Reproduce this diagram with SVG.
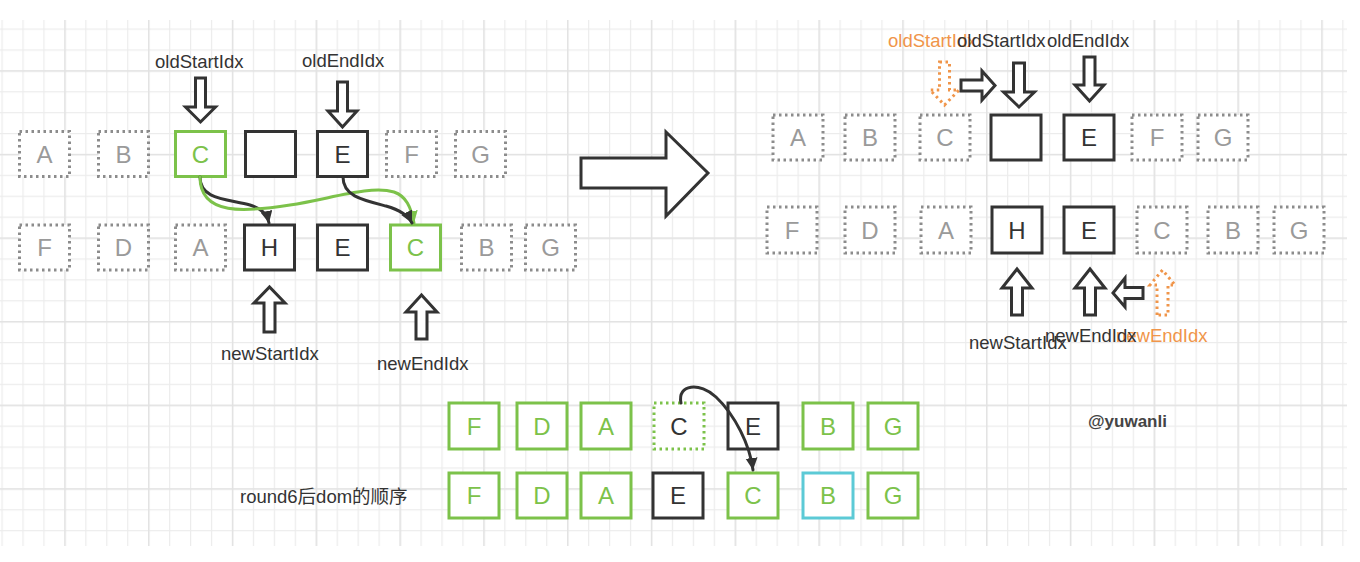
<svg xmlns="http://www.w3.org/2000/svg" width="1360" height="562" viewBox="0 0 1360 562">
  <style>
    .box { fill: #ffffff; stroke-width: 3; }
    .dot { stroke: #8c8c8c; stroke-dasharray: 2.5 3.5; }
    .grn { stroke: #7cc24a; }
    .gdot { stroke: #7cc24a; stroke-dasharray: 2.5 3.5; }
    .drk { stroke: #333333; }
    .cyn { stroke: #5ccad6; }
    .lt { font-family: "Liberation Sans", Arial, Helvetica, sans-serif; font-size: 24px; text-anchor: middle; }
    .tg { fill: #9a9a9a; }
    .tgn { fill: #7cc24a; }
    .td { fill: #333333; }
    .lbl { font-family: "Liberation Sans", Arial, Helvetica, sans-serif; font-size: 18.5px; fill: #333333; }
    .org { fill: #f0954a; }
    .arw { fill: #ffffff; stroke: #333333; stroke-width: 3; stroke-linejoin: miter; }
    .arwo { fill: #ffffff; stroke: #f0954a; stroke-width: 3; stroke-dasharray: 2.5 3.5; }
    .con { fill: none; stroke-width: 3; stroke-linecap: round; }
  </style>
  <defs>
    <pattern id="gridMinor" patternUnits="userSpaceOnUse" x="22.4" y="49.4" width="20.95" height="20.9">
      <rect width="1.2" height="20.9" fill="#ececec"/>
      <rect width="20.95" height="1.2" fill="#ececec"/>
    </pattern>
    <pattern id="gridMajor" patternUnits="userSpaceOnUse" x="64.3" y="70.3" width="83.8" height="83.6">
      <rect width="1.4" height="83.6" fill="#e2e2e2"/>
      <rect width="83.8" height="1.4" fill="#e2e2e2"/>
    </pattern>
    <marker id="headDark" markerUnits="userSpaceOnUse" markerWidth="14" markerHeight="14" refX="12" refY="6" orient="auto">
      <path d="M0 0 L12 6 L0 12 Z" fill="#333333"/>
    </marker>
    <marker id="headGreen" markerUnits="userSpaceOnUse" markerWidth="14" markerHeight="14" refX="12" refY="6" orient="auto">
      <path d="M0 0 L12 6 L0 12 Z" fill="#7cc24a"/>
    </marker>
  </defs>

  <!-- background grid -->
  <rect width="1360" height="562" fill="#ffffff"/>
  <rect x="0" y="20" width="1347" height="526" fill="url(#gridMinor)"/>
  <rect x="0" y="20" width="1347" height="526" fill="url(#gridMajor)"/>

  <!-- left: old children -->
  <g id="old-A"><rect class="box dot" x="19.5" y="131.5" width="50" height="45"/><text class="lt tg" x="44.5" y="162.5">A</text></g>
  <g id="old-B"><rect class="box dot" x="98.5" y="131.5" width="50" height="45"/><text class="lt tg" x="123.5" y="162.5">B</text></g>
  <g id="old-C"><rect class="box grn" x="175.5" y="131.5" width="50" height="45"/><text class="lt tgn" x="200.5" y="162.5">C</text></g>
  <g id="old-empty"><rect class="box drk" x="245.5" y="131.5" width="50" height="45"/></g>
  <g id="old-E"><rect class="box drk" x="317.5" y="131.5" width="50" height="45"/><text class="lt td" x="342.5" y="162.5">E</text></g>
  <g id="old-F"><rect class="box dot" x="386.5" y="131.5" width="50" height="45"/><text class="lt tg" x="411.5" y="162.5">F</text></g>
  <g id="old-G"><rect class="box dot" x="455.5" y="131.5" width="50" height="45"/><text class="lt tg" x="480.5" y="162.5">G</text></g>

  <!-- left: new children -->
  <g id="new-F"><rect class="box dot" x="19.5" y="225" width="50" height="45"/><text class="lt tg" x="44.5" y="256">F</text></g>
  <g id="new-D"><rect class="box dot" x="98.5" y="225" width="50" height="45"/><text class="lt tg" x="123.5" y="256">D</text></g>
  <g id="new-A"><rect class="box dot" x="175.5" y="225" width="50" height="45"/><text class="lt tg" x="200.5" y="256">A</text></g>
  <g id="new-H"><rect class="box drk" x="244.5" y="225" width="50" height="45"/><text class="lt td" x="269.5" y="256">H</text></g>
  <g id="new-E"><rect class="box drk" x="317.5" y="225" width="50" height="45"/><text class="lt td" x="342.5" y="256">E</text></g>
  <g id="new-C"><rect class="box grn" x="390.5" y="225" width="50" height="45"/><text class="lt tgn" x="415.5" y="256">C</text></g>
  <g id="new-B"><rect class="box dot" x="461.5" y="225" width="50" height="45"/><text class="lt tg" x="486.5" y="256">B</text></g>
  <g id="new-G"><rect class="box dot" x="525.5" y="225" width="50" height="45"/><text class="lt tg" x="550.5" y="256">G</text></g>

  <!-- left: index pointers -->
  <g id="ptr-oldStart">
    <text class="lbl" x="155" y="68">oldStartIdx</text>
    <path class="arw" d="M195.5 78 H205.5 V107 H215.5 L200.5 122 L185.5 107 H195.5 Z"/>
  </g>
  <g id="ptr-oldEnd">
    <text class="lbl" x="302" y="67">oldEndIdx</text>
    <path class="arw" d="M337.5 82 H347.5 V111 H357 L342.5 127 L328 111 H337.5 Z"/>
  </g>
  <g id="ptr-newStart">
    <path class="arw" d="M264 332 V303 H254 L269.5 287 L285 303 H275 V332 Z"/>
    <text class="lbl" x="221" y="360">newStartIdx</text>
  </g>
  <g id="ptr-newEnd">
    <path class="arw" d="M416 339 V312 H406 L421.5 295 L437 312 H427 V339 Z"/>
    <text class="lbl" x="377" y="370">newEndIdx</text>
  </g>

  <!-- big step arrow -->
  <g id="step-arrow">
    <path class="arw" d="M581 158 H666 V132 L708 173 L666 216 V188 H581 Z"/>
  </g>

  <!-- right: old children -->
  <g id="r-old-A"><rect class="box dot" x="773" y="115" width="50" height="45"/><text class="lt tg" x="798" y="146">A</text></g>
  <g id="r-old-B"><rect class="box dot" x="845" y="115" width="50" height="45"/><text class="lt tg" x="870" y="146">B</text></g>
  <g id="r-old-C"><rect class="box dot" x="920" y="115" width="50" height="45"/><text class="lt tg" x="945" y="146">C</text></g>
  <g id="r-old-empty"><rect class="box drk" x="991" y="115" width="50" height="45"/></g>
  <g id="r-old-E"><rect class="box drk" x="1064" y="115" width="50" height="45"/><text class="lt td" x="1089" y="146">E</text></g>
  <g id="r-old-F"><rect class="box dot" x="1132" y="115" width="50" height="45"/><text class="lt tg" x="1157" y="146">F</text></g>
  <g id="r-old-G"><rect class="box dot" x="1198" y="115" width="50" height="45"/><text class="lt tg" x="1223" y="146">G</text></g>

  <!-- right: new children -->
  <g id="r-new-F"><rect class="box dot" x="767" y="207" width="50" height="46"/><text class="lt tg" x="792" y="238.5">F</text></g>
  <g id="r-new-D"><rect class="box dot" x="845" y="207" width="50" height="46"/><text class="lt tg" x="870" y="238.5">D</text></g>
  <g id="r-new-A"><rect class="box dot" x="921" y="207" width="50" height="46"/><text class="lt tg" x="946" y="238.5">A</text></g>
  <g id="r-new-H"><rect class="box drk" x="992" y="207" width="50" height="46"/><text class="lt td" x="1017" y="238.5">H</text></g>
  <g id="r-new-E"><rect class="box drk" x="1064" y="207" width="50" height="46"/><text class="lt td" x="1089" y="238.5">E</text></g>
  <g id="r-new-C"><rect class="box dot" x="1137" y="207" width="50" height="46"/><text class="lt tg" x="1162" y="238.5">C</text></g>
  <g id="r-new-B"><rect class="box dot" x="1208" y="207" width="50" height="46"/><text class="lt tg" x="1233" y="238.5">B</text></g>
  <g id="r-new-G"><rect class="box dot" x="1274" y="207" width="50" height="46"/><text class="lt tg" x="1299" y="238.5">G</text></g>

  <!-- right: index pointers -->
  <g id="r-ptr-oldStart-prev">
    <text class="lbl org" x="888" y="47">oldStartIdx</text>
    <path class="arwo" d="M939.5 62 H949.5 V90 H959 L944.5 105 L930 90 H939.5 Z"/>
  </g>
  <g id="r-ptr-shift-right">
    <path class="arw" d="M961 80 H982 V71 L995 85.5 L982 100 V91 H961 Z"/>
  </g>
  <g id="r-ptr-oldStart">
    <text class="lbl" x="957" y="47">oldStartIdx</text>
    <path class="arw" d="M1013.5 63 H1024.5 V92 H1034.5 L1019 107 L1003.5 92 H1013.5 Z"/>
  </g>
  <g id="r-ptr-oldEnd">
    <text class="lbl" x="1047" y="47">oldEndIdx</text>
    <path class="arw" d="M1084 57 H1095 V85 H1104 L1089.5 101 L1075 85 H1084 Z"/>
  </g>
  <g id="r-ptr-newStart">
    <path class="arw" d="M1011.5 315 V288 H1002 L1017 269 L1032 288 H1022.5 V315 Z"/>
    <text class="lbl" x="969" y="349">newStartIdx</text>
  </g>
  <g id="r-ptr-newEnd-prev">
    <path class="arwo" d="M1157 315 V285 H1150 L1162.5 270 L1175 285 H1168 V315 Z"/>
    <text class="lbl org" x="1116" y="342">newEndIdx</text>
  </g>
  <g id="r-ptr-shift-left">
    <path class="arw" d="M1143 287.5 H1125 V278 L1113 293 L1125 307 V298.5 H1143 Z"/>
  </g>
  <g id="r-ptr-newEnd">
    <path class="arw" d="M1084.5 315 V288 H1075 L1090 269 L1105 288 H1095.5 V315 Z"/>
    <text class="lbl" x="1045" y="342">newEndIdx</text>
  </g>

  <!-- bottom: dom order before and after -->
  <g id="dom-F1"><rect class="box grn" x="449" y="403" width="50" height="46"/><text class="lt tgn" x="474" y="434.5">F</text></g>
  <g id="dom-D1"><rect class="box grn" x="517" y="403" width="50" height="46"/><text class="lt tgn" x="542" y="434.5">D</text></g>
  <g id="dom-A1"><rect class="box grn" x="581" y="403" width="50" height="46"/><text class="lt tgn" x="606" y="434.5">A</text></g>
  <g id="dom-C1"><rect class="box gdot" x="654" y="403" width="50" height="46"/><text class="lt td" x="679" y="434.5">C</text></g>
  <g id="dom-E1"><rect class="box drk" x="728" y="403" width="50" height="46"/><text class="lt td" x="753" y="434.5">E</text></g>
  <g id="dom-B1"><rect class="box grn" x="803" y="403" width="50" height="46"/><text class="lt tgn" x="828" y="434.5">B</text></g>
  <g id="dom-G1"><rect class="box grn" x="868" y="403" width="50" height="46"/><text class="lt tgn" x="893" y="434.5">G</text></g>

  <g id="dom-F2"><rect class="box grn" x="449" y="473" width="50" height="45"/><text class="lt tgn" x="474" y="504">F</text></g>
  <g id="dom-D2"><rect class="box grn" x="517" y="473" width="50" height="45"/><text class="lt tgn" x="542" y="504">D</text></g>
  <g id="dom-A2"><rect class="box grn" x="581" y="473" width="50" height="45"/><text class="lt tgn" x="606" y="504">A</text></g>
  <g id="dom-E2"><rect class="box drk" x="653" y="473" width="50" height="45"/><text class="lt td" x="678" y="504">E</text></g>
  <g id="dom-C2"><rect class="box grn" x="728" y="473" width="50" height="45"/><text class="lt tgn" x="753" y="504">C</text></g>
  <g id="dom-B2"><rect class="box cyn" x="803" y="473" width="50" height="45"/><text class="lt tgn" x="828" y="504">B</text></g>
  <g id="dom-G2"><rect class="box grn" x="868" y="473" width="50" height="45"/><text class="lt tgn" x="893" y="504">G</text></g>

  <g id="caption">
    <text class="lbl" x="240" y="503" style="font-family: 'Liberation Sans', 'Noto Sans CJK SC', sans-serif;">round6后dom的顺序</text>
  </g>
  <g id="author">
    <text x="1088" y="427" style="font-family: 'Liberation Sans', Arial, sans-serif; font-size: 17px; font-weight: bold; fill: #444444;">@yuwanli</text>
  </g>

  <!-- connectors -->
  <g id="connectors">
    <path class="con" stroke="#333333" d="M200 177 C200 200, 228 199, 250 205 C262 209, 267 214, 269 223" marker-end="url(#headDark)"/>
    <path class="con" stroke="#7cc24a" d="M200 177 C200 216, 245 212, 290 205 C330 199, 370 185, 394 192 C406 196, 411 207, 414 223" marker-end="url(#headGreen)"/>
    <path class="con" stroke="#333333" d="M343 177 C343 196, 362 200, 386 206 C400 210, 408 215, 412 223" marker-end="url(#headDark)"/>
    <path class="con" stroke="#333333" d="M681 403 C677 384, 700 382, 716 397 C735 415, 750 445, 753 470" marker-end="url(#headDark)"/>
  </g>
</svg>
